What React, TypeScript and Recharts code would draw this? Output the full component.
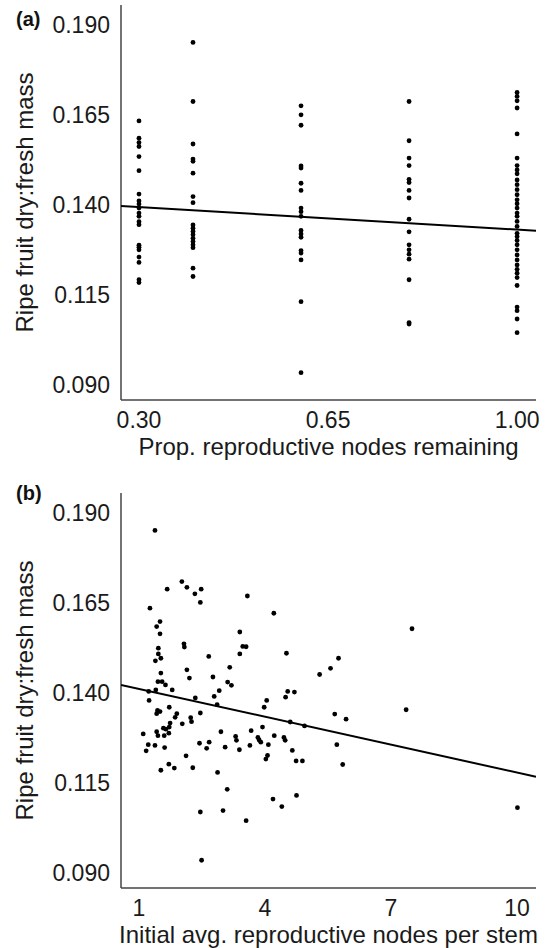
import { ScatterChart, Scatter, XAxis, YAxis } from "recharts";

// y axis ticks, shared by both panels
const massTicks = [0.09, 0.115, 0.14, 0.165, 0.19];
const massDomain = [0.0858, 0.1955];

// (a) x axis
const propTicks = [0.3, 0.65, 1.0];
const propDomain = [0.2667, 1.035];

// (a) dry:fresh mass per column of prop. reproductive nodes remaining
const prop030 = [
  0.1633, 0.1585, 0.1573, 0.1562, 0.1534, 0.1495, 0.143, 0.1411, 0.1402, 0.1391, 0.1377,
  0.1368, 0.1353, 0.1345, 0.1288, 0.1282, 0.1275, 0.1255, 0.124, 0.1192, 0.1184,
];
const prop040 = [
  0.1851, 0.1687, 0.1569, 0.1527, 0.1521, 0.1488, 0.1423, 0.1406, 0.1344, 0.1335, 0.1326,
  0.1317, 0.1307, 0.1298, 0.1289, 0.1281, 0.1224, 0.1201,
];
const prop060 = [
  0.1675, 0.165, 0.1621, 0.1508, 0.1502, 0.146, 0.144, 0.1391, 0.1381, 0.1368, 0.1329,
  0.1319, 0.131, 0.1273, 0.1266, 0.1247, 0.1131, 0.0934,
];
const prop080 = [
  0.1687, 0.1578, 0.153, 0.1509, 0.1471, 0.1462, 0.144, 0.1419, 0.136, 0.1325, 0.1289,
  0.1275, 0.1263, 0.1249, 0.1192, 0.1073, 0.1069,
];
const prop100 = [
  0.1712, 0.1701, 0.1689, 0.1669, 0.1597, 0.153, 0.1509, 0.1497, 0.1486, 0.1469, 0.1456,
  0.1442, 0.1428, 0.1414, 0.1403, 0.1391, 0.1377, 0.1368, 0.1354, 0.134, 0.1321, 0.1312,
  0.1301, 0.1289, 0.1275, 0.1261, 0.1247, 0.1233, 0.1221, 0.121, 0.1198, 0.1176, 0.1116,
  0.1106, 0.1083, 0.1045,
];

// (a) fitted line, at the ends of the x axis
const fitA = [
  { x: 0.2667, y: 0.1397 },
  { x: 1.035, y: 0.1328 },
];

// (b) x axis
const nodeTicks = [1, 4, 7, 10];
const nodeDomain = [0.571, 10.452];

// (b) [initial avg. nodes per stem, dry:fresh mass]
const nodePoints: [number, number][] = [
  [1.38, 0.1851], [1.26, 0.1635], [1.67, 0.1688], [2.02, 0.1709], [2.14, 0.1693],
  [2.33, 0.1675], [2.48, 0.1688], [2.46, 0.1651], [3.58, 0.1669], [4.21, 0.1621],
  [1.5, 0.1598], [1.42, 0.1584], [1.5, 0.1564], [1.46, 0.1524], [1.46, 0.1508],
  [1.52, 0.1496], [1.39, 0.1489], [1.52, 0.1455], [2.07, 0.1536], [2.08, 0.1527],
  [2.14, 0.1464], [2.2, 0.1441], [2.66, 0.1501], [2.76, 0.1444], [3.16, 0.1471],
  [3.11, 0.143], [3.2, 0.1421], [3.4, 0.1569], [3.4, 0.1508], [3.47, 0.1529],
  [3.55, 0.1528], [4.51, 0.151], [4.54, 0.1404], [4.7, 0.1402], [4.49, 0.1388],
  [1.45, 0.1431], [1.55, 0.1431], [1.63, 0.1422], [1.79, 0.1408], [1.4, 0.1408],
  [1.23, 0.1404], [2.91, 0.1406], [2.34, 0.1386], [2.79, 0.139], [4.04, 0.1379],
  [3.98, 0.136], [2.86, 0.1367], [1.24, 0.1379], [1.72, 0.136], [1.44, 0.1351],
  [1.5, 0.1348], [1.42, 0.1342], [1.9, 0.1342], [1.86, 0.1332], [2.23, 0.1331],
  [2.25, 0.132], [2.46, 0.1344], [2.03, 0.1314], [1.74, 0.1316], [1.72, 0.1305],
  [1.58, 0.1302], [1.64, 0.1299], [1.71, 0.1288], [1.42, 0.1292], [1.45, 0.1281],
  [1.6, 0.1281], [1.1, 0.1286], [1.22, 0.1256], [1.38, 0.1254], [1.17, 0.1239],
  [1.61, 0.1248], [2.44, 0.126], [2.67, 0.1263], [2.61, 0.1246], [2.12, 0.1225],
  [1.71, 0.1202], [1.84, 0.1191], [1.52, 0.1185], [2.28, 0.1192], [2.87, 0.1179],
  [2.95, 0.1292], [3.3, 0.1279], [3.32, 0.1268], [3.67, 0.1295], [3.94, 0.1305],
  [3.83, 0.1276], [3.86, 0.1269], [3.9, 0.1263], [4.22, 0.1281], [4.45, 0.1276],
  [4.48, 0.1268], [3.05, 0.1249], [3.39, 0.1242], [3.64, 0.1254], [4.08, 0.1256],
  [4.65, 0.124], [4.06, 0.1226], [4.02, 0.1216], [4.74, 0.1211], [4.89, 0.1211],
  [4.6, 0.1319], [4.94, 0.1308], [3.1, 0.1132], [4.19, 0.1105], [4.4, 0.1084],
  [4.75, 0.1115], [2.46, 0.1069], [3.0, 0.1073], [3.55, 0.1045], [2.49, 0.0935],
  [7.5, 0.1578], [5.75, 0.1496], [5.56, 0.1468], [5.3, 0.1451], [7.36, 0.1353],
  [5.66, 0.1341], [5.93, 0.1327], [5.71, 0.1256], [5.85, 0.1201], [10.01, 0.1081],
];

// (b) fitted line
const fitB = [
  { x: 0.571, y: 0.1422 },
  { x: 10.452, y: 0.1167 },
];

const pointsA = [
  ...prop030.map((y) => ({ x: 0.3, y })),
  ...prop040.map((y) => ({ x: 0.4, y })),
  ...prop060.map((y) => ({ x: 0.6, y })),
  ...prop080.map((y) => ({ x: 0.8, y })),
  ...prop100.map((y) => ({ x: 1.0, y })),
];
const pointsB = nodePoints.map(([x, y]) => ({ x, y }));

const FONT = "'Liberation Sans', Arial, Helvetica, sans-serif";
const axisLine = { stroke: "#444", strokeWidth: 1.5 };
const tickStyle = { fill: "#1a1a1a", fontSize: 23, fontFamily: FONT };
const titleStyle = { fill: "#1a1a1a", fontSize: 24, fontFamily: FONT };

const Dot = (props: any) => <circle cx={props.cx} cy={props.cy} r={2.4} fill="#000" />;
const NoDot = () => <g />;

interface PanelProps {
  points: { x: number; y: number }[];
  fit: { x: number; y: number }[];
  xDomain: number[];
  xTicks: number[];
  xDigits: number;
  xTitle: string;
  marginTop: number;
  xHeight: number;
  titleOffset: number;
}

const Panel = ({ points, fit, xDomain, xTicks, xDigits, xTitle, marginTop, xHeight, titleOffset }: PanelProps) => (
  <ScatterChart
    width={545}
    height={474}
    margin={{ top: marginTop, right: 9, bottom: 4, left: 0 }}
  >
    <XAxis
      type="number"
      dataKey="x"
      domain={xDomain}
      ticks={xTicks}
      allowDataOverflow
      height={xHeight}
      tickLine={false}
      tickSize={0}
      tickMargin={12}
      axisLine={axisLine}
      tick={tickStyle}
      tickFormatter={(v: number) => v.toFixed(xDigits)}
      label={{ value: xTitle, position: "insideBottom", offset: titleOffset, style: titleStyle }}
    />
    <YAxis
      type="number"
      dataKey="y"
      domain={massDomain}
      ticks={massTicks}
      allowDataOverflow
      width={121}
      tickLine={false}
      tickSize={0}
      tickMargin={11}
      axisLine={axisLine}
      tick={tickStyle}
      tickFormatter={(v: number) => v.toFixed(3)}
      label={{
        value: "Ripe fruit dry:fresh mass",
        angle: -90,
        position: "insideLeft",
        offset: 24,
        style: { ...titleStyle, textAnchor: "middle" },
      }}
    />
    <Scatter data={points} shape={Dot} isAnimationActive={false} />
    <Scatter
      data={fit}
      shape={NoDot}
      line={{ stroke: "#000", strokeWidth: 2 }}
      isAnimationActive={false}
    />
  </ScatterChart>
);

const tagStyle = {
  position: "absolute" as const,
  left: 16,
  fontFamily: FONT,
  fontWeight: 700,
  fontSize: 20,
  color: "#111",
  lineHeight: "20px",
};

export default function App() {
  return (
    <div style={{ position: "absolute", left: 0, top: 0, width: 545, height: 948, background: "#fff", overflow: "hidden" }}>
      <div style={{ position: "absolute", left: 0, top: 0 }}>
        <Panel
          points={pointsA}
          fit={fitA}
          xDomain={propDomain}
          xTicks={propTicks}
          xDigits={2}
          xTitle="Prop. reproductive nodes remaining"
          marginTop={5}
          xHeight={70}
          titleOffset={15}
        />
      </div>
      <div style={{ position: "absolute", left: 0, top: 474 }}>
        <Panel
          points={pointsB}
          fit={fitB}
          xDomain={nodeDomain}
          xTicks={nodeTicks}
          xDigits={0}
          xTitle="Initial avg. reproductive nodes per stem"
          marginTop={19}
          xHeight={56}
          titleOffset={1}
        />
      </div>
      <div style={{ ...tagStyle, top: 9 }}>(a)</div>
      <div style={{ ...tagStyle, top: 483 }}>(b)</div>
    </div>
  );
}
